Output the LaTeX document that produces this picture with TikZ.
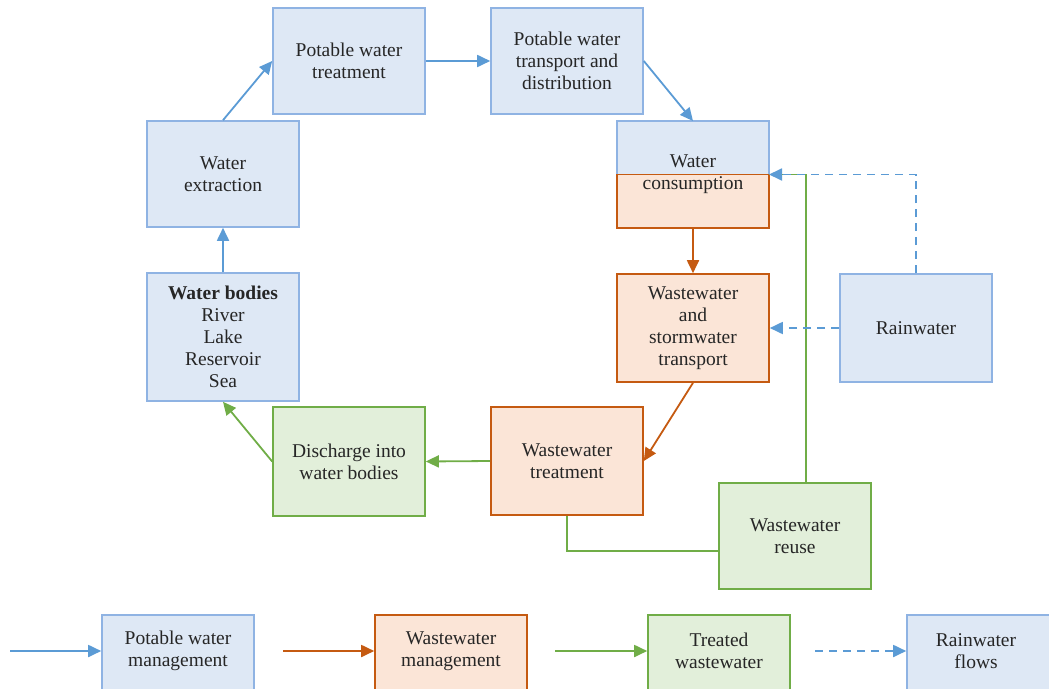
\documentclass[tikz,border=0pt]{standalone}
\usepackage{fontspec}
\setmainfont{Liberation Serif}
\usetikzlibrary{arrows.meta,calc}
\definecolor{bfill}{HTML}{DEE8F5}
\definecolor{bline}{HTML}{8FB3E3}
\definecolor{barrow}{HTML}{5B9BD5}
\definecolor{ofill}{HTML}{FBE5D7}
\definecolor{oline}{HTML}{C55A11}
\definecolor{gfill}{HTML}{E2EFDA}
\definecolor{gline}{HTML}{70AD47}
\begin{document}
\begin{tikzpicture}[x=1pt,y=-1pt,
  txt/.style={font=\fontsize{19.5}{22}\selectfont, align=center, text=black!85},
  box/.style={txt, line width=1.6pt, minimum width=152pt, minimum height=106pt, inner sep=0pt},
  bluebox/.style={box, draw=bline, fill=bfill},
  orangebox/.style={box, draw=oline, fill=ofill},
  greenbox/.style={box, draw=gline, fill=gfill},
  tip/.style={-{Triangle[length=13pt,width=12pt]}},
  bluearrow/.style={tip, draw=barrow, line width=1.8pt},
  orangearrow/.style={tip, draw=oline, line width=1.8pt},
  greenarrow/.style={tip, draw=gline, line width=1.8pt},
  greenline/.style={draw=gline, line width=1.8pt},
  rainarrow/.style={bluearrow, dash pattern=on 8pt off 6pt},
]
\useasboundingbox (0,0) rectangle (1049,688);

% potable water chain
\node[bluebox] (ptreat) at (349,61) {Potable water\\treatment};
\node[bluebox] (pdist) at (567,61) {Potable water\\transport and\\distribution};
\node[bluebox] (ext) at (223,174) {Water\\extraction};
\node[bluebox, minimum height=128pt] (bodies) at (223,337) {\textbf{Water bodies}\\River\\Lake\\Reservoir\\Sea};

% water consumption: half potable, half wastewater
\node[box, minimum height=107pt, outer sep=0pt] (cons) at (693,174.5) {};
\filldraw[fill=bfill, draw=bline, line width=1.6pt] (cons.north west) rectangle (cons.east);
\filldraw[fill=ofill, draw=oline, line width=1.6pt] (cons.west) rectangle (cons.south east);
\node[txt] at (cons.center) {Water\\consumption};

% wastewater chain
\node[orangebox, minimum height=108pt] (wst) at (693,328) {Wastewater\\and\\stormwater\\transport};
\node[orangebox, minimum height=108pt] (wtreat) at (567,461) {Wastewater\\treatment};
\node[greenbox, minimum height=109pt] (disch) at (349,461.5) {Discharge into\\water bodies};
\node[greenbox] (reuse) at (795,536) {Wastewater\\reuse};
\node[bluebox, minimum height=108pt] (rain) at (916,328) {Rainwater};

% flows
\draw[bluearrow] (bodies.north) -- (ext.south);
\draw[bluearrow] (ext.north) -- (ptreat.west);
\draw[bluearrow] (ptreat.east) -- (pdist.west);
\draw[bluearrow] (pdist.east) -- (cons.north);
\draw[orangearrow] (cons.south) -- (wst.north);
\draw[orangearrow] (wst.south) -- (wtreat.east);
\draw[greenarrow] (wtreat.west) -- (disch.east);
\draw[greenarrow] (disch.west) -- (bodies.south);
\draw[greenline] (wtreat.south) |- ($(reuse.west)+(0,15)$);
\draw[greenline] ($(reuse.north)+(11,0)$) |- (cons.east);
\draw[rainarrow] (rain.north) |- (cons.east);
\draw[rainarrow] (rain.west) -- (wst.east);

% legend
\node[bluebox, anchor=north, minimum height=100pt] (lpm) at (178,614) {};
\node[txt] at (178,651) {Potable water\\management};
\node[orangebox, anchor=north, minimum height=100pt] (lwm) at (451,614) {};
\node[txt] at (451,651) {Wastewater\\management};
\node[greenbox, anchor=north, minimum width=142pt, minimum height=100pt] (ltw) at (719,614) {};
\node[txt] at (719,651) {Treated\\wastewater};
\node[bluebox, anchor=north, minimum height=100pt] (lrf) at (983,614) {};
\node[txt] at (976,651) {Rainwater\\flows};

\coordinate (s1) at (10,651);
\coordinate (s2) at (283,651);
\coordinate (s3) at (555,651);
\coordinate (s4) at (815,651);
\draw[bluearrow] (s1) -- (s1 -| lpm.west);
\draw[orangearrow] (s2) -- (s2 -| lwm.west);
\draw[greenarrow] (s3) -- (s3 -| ltw.west);
\draw[rainarrow] (s4) -- (s4 -| lrf.west);
\end{tikzpicture}
\end{document}
